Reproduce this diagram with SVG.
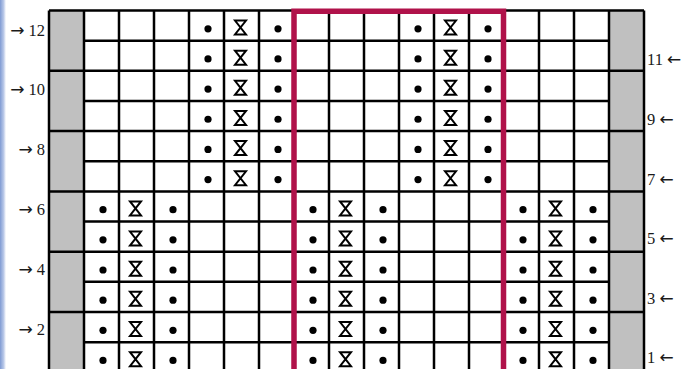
<svg xmlns="http://www.w3.org/2000/svg" xmlns:xlink="http://www.w3.org/1999/xlink" width="682" height="369" viewBox="0 0 682 369">
<style>
.grid{stroke:#000;stroke-width:2.5;fill:none}
.gray{fill:#c0c0c0}
.hg{stroke:#000;stroke-width:2;fill:none;stroke-linejoin:miter}
.lbl{font-family:"Liberation Serif","Times New Roman",serif;font-size:16.5px;fill:#1a1a1a}
.ar{font-family:"DejaVu Sans",sans-serif;font-size:17px;font-weight:normal}
.red{stroke:#b0124a;stroke-width:5.5;fill:none}
</style>
<defs>
<linearGradient id="bg" x1="0" x2="1" y1="0" y2="0">
<stop offset="0" stop-color="#7f9bd3"/>
<stop offset="0.6" stop-color="#b9c8e8"/>
<stop offset="1" stop-color="#ffffff"/>
</linearGradient>
<circle id="d" cx="1.5" cy="18.3" r="3.6" fill="#000"/>
<path id="h" class="hg" d="M-6.5,10 H4.5 L-6.5,24 H4.5 Z"/>
</defs>
<rect x="0" y="0" width="682" height="369" fill="#fff"/>
<rect x="0" y="0" width="6" height="369" fill="url(#bg)"/>
<g id="gray-columns">
<rect class="gray" x="49" y="10.5" width="35" height="362"/>
<rect class="gray" x="609" y="10.5" width="35" height="362"/>
</g>
<g id="grid" class="grid">
<path d="M49,10.5 H644 M84,40.65 H609 M49,70.8 H644 M84,100.95 H609 M49,131.1 H644 M84,161.25 H609 M49,191.4 H644 M84,221.55 H609 M49,251.7 H644 M84,281.85 H609 M49,312 H644 M84,342.15 H609"/>
<path d="M49,10.5 V372 M84,10.5 V372 M119,10.5 V372 M154,10.5 V372 M189,10.5 V372 M224,10.5 V372 M259,10.5 V372 M294,10.5 V372 M329,10.5 V372 M364,10.5 V372 M399,10.5 V372 M434,10.5 V372 M469,10.5 V372 M504,10.5 V372 M539,10.5 V372 M574,10.5 V372 M609,10.5 V372 M644,10.5 V372"/>
</g>
<g id="stitches-top">
<use href="#d" x="206.5" y="10.5"/><use href="#h" x="241.5" y="10.5"/><use href="#d" x="276.5" y="10.5"/>
<use href="#d" x="416.5" y="10.5"/><use href="#h" x="451.5" y="10.5"/><use href="#d" x="486.5" y="10.5"/>
<use href="#d" x="206.5" y="40.65"/><use href="#h" x="241.5" y="40.65"/><use href="#d" x="276.5" y="40.65"/>
<use href="#d" x="416.5" y="40.65"/><use href="#h" x="451.5" y="40.65"/><use href="#d" x="486.5" y="40.65"/>
<use href="#d" x="206.5" y="70.8"/><use href="#h" x="241.5" y="70.8"/><use href="#d" x="276.5" y="70.8"/>
<use href="#d" x="416.5" y="70.8"/><use href="#h" x="451.5" y="70.8"/><use href="#d" x="486.5" y="70.8"/>
<use href="#d" x="206.5" y="100.95"/><use href="#h" x="241.5" y="100.95"/><use href="#d" x="276.5" y="100.95"/>
<use href="#d" x="416.5" y="100.95"/><use href="#h" x="451.5" y="100.95"/><use href="#d" x="486.5" y="100.95"/>
<use href="#d" x="206.5" y="131.1"/><use href="#h" x="241.5" y="131.1"/><use href="#d" x="276.5" y="131.1"/>
<use href="#d" x="416.5" y="131.1"/><use href="#h" x="451.5" y="131.1"/><use href="#d" x="486.5" y="131.1"/>
<use href="#d" x="206.5" y="161.25"/><use href="#h" x="241.5" y="161.25"/><use href="#d" x="276.5" y="161.25"/>
<use href="#d" x="416.5" y="161.25"/><use href="#h" x="451.5" y="161.25"/><use href="#d" x="486.5" y="161.25"/>
</g>
<g id="stitches-bottom">
<use href="#d" x="101.5" y="191.4"/><use href="#h" x="136.5" y="191.4"/><use href="#d" x="171.5" y="191.4"/>
<use href="#d" x="311.5" y="191.4"/><use href="#h" x="346.5" y="191.4"/><use href="#d" x="381.5" y="191.4"/>
<use href="#d" x="521.5" y="191.4"/><use href="#h" x="556.5" y="191.4"/><use href="#d" x="591.5" y="191.4"/>
<use href="#d" x="101.5" y="221.55"/><use href="#h" x="136.5" y="221.55"/><use href="#d" x="171.5" y="221.55"/>
<use href="#d" x="311.5" y="221.55"/><use href="#h" x="346.5" y="221.55"/><use href="#d" x="381.5" y="221.55"/>
<use href="#d" x="521.5" y="221.55"/><use href="#h" x="556.5" y="221.55"/><use href="#d" x="591.5" y="221.55"/>
<use href="#d" x="101.5" y="251.7"/><use href="#h" x="136.5" y="251.7"/><use href="#d" x="171.5" y="251.7"/>
<use href="#d" x="311.5" y="251.7"/><use href="#h" x="346.5" y="251.7"/><use href="#d" x="381.5" y="251.7"/>
<use href="#d" x="521.5" y="251.7"/><use href="#h" x="556.5" y="251.7"/><use href="#d" x="591.5" y="251.7"/>
<use href="#d" x="101.5" y="281.85"/><use href="#h" x="136.5" y="281.85"/><use href="#d" x="171.5" y="281.85"/>
<use href="#d" x="311.5" y="281.85"/><use href="#h" x="346.5" y="281.85"/><use href="#d" x="381.5" y="281.85"/>
<use href="#d" x="521.5" y="281.85"/><use href="#h" x="556.5" y="281.85"/><use href="#d" x="591.5" y="281.85"/>
<use href="#d" x="101.5" y="312"/><use href="#h" x="136.5" y="312"/><use href="#d" x="171.5" y="312"/>
<use href="#d" x="311.5" y="312"/><use href="#h" x="346.5" y="312"/><use href="#d" x="381.5" y="312"/>
<use href="#d" x="521.5" y="312"/><use href="#h" x="556.5" y="312"/><use href="#d" x="591.5" y="312"/>
<use href="#d" x="101.5" y="342.15"/><use href="#h" x="136.5" y="342.15"/><use href="#d" x="171.5" y="342.15"/>
<use href="#d" x="311.5" y="342.15"/><use href="#h" x="346.5" y="342.15"/><use href="#d" x="381.5" y="342.15"/>
<use href="#d" x="521.5" y="342.15"/><use href="#h" x="556.5" y="342.15"/><use href="#d" x="591.5" y="342.15"/>
</g>
<g id="repeat-box">
<path class="red" d="M294,372 V11.2 H503.5 V372"/>
</g>
<g id="labels-left" class="lbl" text-anchor="end">
<text x="45" y="35.5"><tspan class="ar">→</tspan> 12</text>
<text x="45" y="95.3"><tspan class="ar">→</tspan> 10</text>
<text x="45" y="155.1"><tspan class="ar">→</tspan> 8</text>
<text x="45" y="214.9"><tspan class="ar">→</tspan> 6</text>
<text x="45" y="274.7"><tspan class="ar">→</tspan> 4</text>
<text x="45" y="334.5"><tspan class="ar">→</tspan> 2</text>
</g>
<g id="labels-right" class="lbl">
<text x="647" y="65.3">11 <tspan class="ar">←</tspan></text>
<text x="647" y="124.9">9 <tspan class="ar">←</tspan></text>
<text x="647" y="184.5">7 <tspan class="ar">←</tspan></text>
<text x="647" y="244.1">5 <tspan class="ar">←</tspan></text>
<text x="647" y="303.7">3 <tspan class="ar">←</tspan></text>
<text x="647" y="363.3">1 <tspan class="ar">←</tspan></text>
</g>
</svg>
